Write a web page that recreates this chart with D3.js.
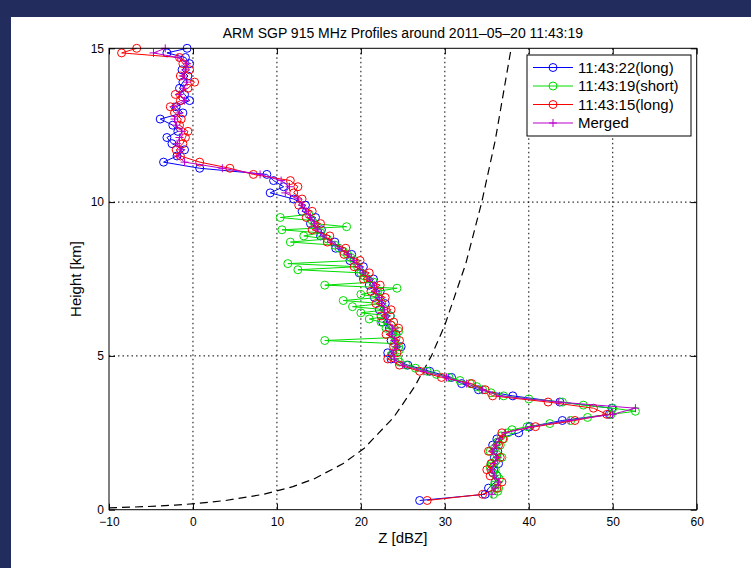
<!DOCTYPE html>
<html>
<head>
<meta charset="utf-8">
<script src="https://cdn.jsdelivr.net/npm/d3@7"></script>
<style>
  html, body { margin: 0; padding: 0; background: #222d5e; }
  svg { display: block; }
  text { font-family: "Liberation Sans", Arial, Helvetica, sans-serif; fill: #000; }
</style>
</head>
<body>
<svg id="chart" width="751" height="568"></svg>
<script>
// ---------------- data ----------------
const titleText = "ARM SGP 915 MHz Profiles around 2011\u201305\u201320 11:43:19";
const xLabel = "Z [dBZ]";
const yLabel = "Height [km]";
const xTicks = [-10, 0, 10, 20, 30, 40, 50, 60];
const yTicks = [0, 5, 10, 15];
const seriesNames = ["11:43:22(long)", "11:43:19(short)", "11:43:15(long)", "Merged"];

// heights (km) of the long-mode gates
const hLong = [0.3,0.5,0.7,0.9,1.1,1.3,1.5,1.7,1.9,2.1,2.3,2.5,2.7,2.9,3.1,3.3,3.5,3.7,3.9,4.1,
  4.3,4.5,4.7,4.9,5.1,5.3,5.5,5.7,5.9,6.1,6.3,6.5,6.7,6.9,7.1,7.3,7.5,7.7,7.9,8.1,
  8.3,8.5,8.7,8.9,9.1,9.3,9.5,9.7,9.9,10.1,10.3,10.5,10.7,10.9,11.1,11.3,11.5,11.7,11.9,12.1,
  12.3,12.5,12.7,12.9,13.1,13.3,13.5,13.7,13.9,14.1,14.3,14.5,14.7,14.85,15.0];
// 11:43:22 (long)
const zBlue = [27.0,34.8,35.2,36.0,36.2,35.8,36.4,35.9,36.3,35.7,36.2,38.8,40.1,44.0,49.6,49.9,43.7,38.1,34.0,32.0,
  30.8,28.2,25.6,23.6,23.2,24.8,23.6,24.2,23.4,22.6,23.5,22.2,22.9,21.6,22.3,21.0,21.5,19.8,20.3,18.7,
  18.9,17.0,16.9,15.2,15.3,14.0,14.6,13.0,13.4,12.0,9.2,10.8,9.6,8.8,0.8,-3.5,-1.9,-1.0,-2.5,-3.1,
  -1.8,-2.4,-3.9,-1.2,-2.0,-0.4,-1.0,-1.6,-1.2,-0.6,-1.3,-0.4,-0.9,-3.1,-0.7];
// 11:43:15 (long)
const zRed = [27.9,34.5,36.2,36.8,35.4,35.0,35.5,36.6,35.2,36.4,36.9,36.8,40.8,45.5,49.3,47.7,42.3,35.7,34.8,33.2,
  29.6,27.0,24.6,23.2,24.3,23.9,24.6,23.0,24.5,23.9,22.4,23.6,21.8,22.9,21.2,22.3,20.3,21.0,19.2,19.9,
  18.0,18.2,16.0,16.3,14.2,15.2,13.5,14.2,12.6,13.0,12.0,12.5,11.6,7.2,4.4,0.8,-1.5,-2.0,-1.2,-0.9,
  -0.6,-1.6,-1.4,-2.2,-2.7,-1.5,-2.1,-0.6,0.2,-1.5,-0.4,-1.2,-1.6,-8.5,-6.7];
// merged
const hMerged = hLong.slice(1);
const zMerged = [35.6,36.0,36.4,35.9,35.6,35.8,36.2,35.7,36.1,36.5,37.2,40.3,44.8,50.0,52.7,43.5,36.5,34.5,32.6,
  30.2,27.5,25.0,24.0,23.8,24.2,24.0,23.6,23.8,23.2,23.0,22.8,22.5,22.2,21.8,21.6,21.0,20.3,19.8,19.2,
  18.5,17.5,16.5,15.5,14.8,14.5,14.0,13.5,13.0,12.5,11.0,11.5,10.5,8.0,3.5,-1.0,-1.8,-1.4,-1.9,-1.6,
  -1.3,-2.0,-2.2,-1.6,-2.3,-1.0,-1.6,-1.1,-0.7,-1.2,-0.9,-0.7,-1.8,-4.7,-3.3];
// 11:43:19 (short) – finer gates
const hShort = [0.5,0.6,0.7,0.8,0.9,1.0,1.1,1.2,1.3,1.4,1.5,1.6,1.7,1.8,1.9,2.0,2.1,2.2,2.3,2.4,
  2.5,2.6,2.7,2.8,2.9,3.0,3.1,3.2,3.3,3.4,3.5,3.6,3.7,3.8,3.9,4.0,4.1,4.2,4.3,4.4,
  4.5,4.6,4.7,4.8,4.9,5.0,5.1,5.2,5.3,5.4,5.5,5.6,5.7,5.8,5.9,6.0,6.1,6.2,6.3,6.4,
  6.5,6.6,6.7,6.8,6.9,7.0,7.1,7.2,7.3,7.4,7.5,7.6,7.7,7.8,7.9,8.0,8.1,8.2,8.3,8.4,
  8.5,8.6,8.7,8.8,8.9,9.0,9.1,9.2,9.3,9.4,9.5,9.6];
const zGreen = [35.8,36.3,36.4,35.9,36.0,36.5,36.2,35.7,36.0,35.4,35.6,36.1,36.8,36.2,35.4,35.9,36.6,36.3,37.0,36.7,
  37.5,38.0,39.8,42.5,45.0,47.0,49.8,52.7,50.0,46.5,44.0,40.0,37.0,35.5,34.5,33.8,33.0,31.8,30.5,29.0,
  27.9,26.5,25.4,24.6,24.4,23.6,23.8,24.6,24.5,24.0,15.7,24.2,23.8,24.5,23.0,23.6,22.4,21.0,23.5,20.0,
  23.0,19.0,22.5,17.9,22.2,20.0,22.0,24.3,15.7,21.5,20.8,20.4,20.0,12.5,19.6,11.3,19.2,18.8,18.4,17.9,
  17.4,16.9,11.6,16.0,13.2,15.2,10.6,18.3,14.5,14.2,10.4,13.8];
// minimum detectable reflectivity curve (dashed)
const hMin = [0.06,0.1,0.15,0.2,0.3,0.5,0.75,1,1.5,2,3,4,5,6,8,10,12,15];
const zMin = [-10.0,-5.6,-2.1,0.4,3.9,8.4,11.9,14.4,17.9,20.4,23.9,26.4,28.4,30.0,32.5,34.4,36.0,37.9];

const colors = ["#0000ff", "#00dd00", "#ff0000", "#bb00cc"];

// ---------------- chart ----------------
const svg = d3.select("#chart");
svg.append("rect").attr("x", 11).attr("y", 17).attr("width", 740).attr("height", 551).attr("fill", "#ffffff");

const L = 109, R = 696.7, T = 48.3, B = 509.7;
const x = d3.scaleLinear().domain([-10, 60]).range([L, R]);
const y = d3.scaleLinear().domain([0, 15]).range([B, T]);

// grid
const grid = svg.append("g").attr("stroke", "#000").attr("stroke-width", 1)
  .attr("stroke-dasharray", "1.5,3").attr("fill", "none");
xTicks.filter(v => v > -10 && v < 60).forEach(v => {
  grid.append("line").attr("x1", x(v)).attr("x2", x(v)).attr("y1", T).attr("y2", B);
});
yTicks.filter(v => v > 0 && v < 15).forEach(v => {
  grid.append("line").attr("x1", L).attr("x2", R).attr("y1", y(v)).attr("y2", y(v));
});

const plot = svg.append("g");

// dashed curve
const line = d3.line().x(d => x(d[0])).y(d => y(d[1]));
plot.append("path").datum(zMin.map((z, i) => [z, hMin[i]]))
  .attr("d", line).attr("fill", "none").attr("stroke", "#000")
  .attr("stroke-width", 1.2).attr("stroke-dasharray", "8,5");

function drawSeries(zs, hs, color, marker) {
  const pts = zs.map((z, i) => [z, hs[i]]);
  const g = plot.append("g");
  g.append("path").datum(pts).attr("d", line).attr("fill", "none")
    .attr("stroke", color).attr("stroke-width", 1);
  if (marker === "o") {
    g.selectAll("circle").data(pts).join("circle")
      .attr("cx", d => x(d[0])).attr("cy", d => y(d[1])).attr("r", 4)
      .attr("fill", "none").attr("stroke", color).attr("stroke-width", 1);
  } else {
    g.selectAll("path.plus").data(pts).join("path").attr("class", "plus")
      .attr("d", d => `M${x(d[0]) - 4},${y(d[1])}h8M${x(d[0])},${y(d[1]) - 4}v8`)
      .attr("stroke", color).attr("stroke-width", 1).attr("fill", "none");
  }
}
drawSeries(zBlue, hLong, colors[0], "o");
drawSeries(zGreen, hShort, colors[1], "o");
drawSeries(zRed, hLong, colors[2], "o");
drawSeries(zMerged, hMerged, colors[3], "+");

// axes
const fmt = d3.format("d");
const xAxis = d3.axisBottom(x).tickValues(xTicks).tickSizeInner(-6).tickSizeOuter(0).tickPadding(8)
  .tickFormat(d => fmt(d).replace("-", "\u2212"));
const gx = svg.append("g").attr("transform", `translate(0,${B})`).call(xAxis);
const gxt = svg.append("g").attr("transform", `translate(0,${T})`)
  .call(d3.axisTop(x).tickValues(xTicks).tickSizeInner(-6).tickSizeOuter(0).tickFormat(""));
const yAxis = d3.axisLeft(y).tickValues(yTicks).tickSizeInner(-6).tickSizeOuter(0).tickPadding(5).tickFormat(fmt);
const gy = svg.append("g").attr("transform", `translate(${L},0)`).call(yAxis);
const gyr = svg.append("g").attr("transform", `translate(${R},0)`)
  .call(d3.axisRight(y).tickValues(yTicks).tickSizeInner(-6).tickSizeOuter(0).tickFormat(""));
[gx, gxt, gy, gyr].forEach(g => {
  g.select(".domain").remove();
  g.selectAll("line").attr("stroke", "#000");
  g.selectAll("text").attr("font-size", 12).attr("font-family", "Liberation Sans, Arial, sans-serif").attr("fill", "#000");
});
svg.append("rect").attr("x", L).attr("y", T).attr("width", R - L).attr("height", B - T)
  .attr("fill", "none").attr("stroke", "#000").attr("stroke-width", 1);

// labels
svg.append("text").attr("x", (L + R) / 2).attr("y", 38).attr("text-anchor", "middle")
  .attr("font-size", 14).text(titleText);
svg.append("text").attr("x", (L + R) / 2).attr("y", 543).attr("text-anchor", "middle")
  .attr("font-size", 15).text(xLabel);
svg.append("text").attr("transform", `translate(81,${(T + B) / 2}) rotate(-90)`)
  .attr("text-anchor", "middle").attr("font-size", 15).text(yLabel);

// legend
const lg = svg.append("g");
lg.append("rect").attr("x", 527).attr("y", 55).attr("width", 164).attr("height", 81)
  .attr("fill", "#fff").attr("stroke", "#000").attr("stroke-width", 1);
const rowsY = [67.5, 86, 104.5, 123];
seriesNames.forEach((name, i) => {
  const yy = rowsY[i];
  lg.append("line").attr("x1", 533).attr("x2", 573).attr("y1", yy).attr("y2", yy)
    .attr("stroke", colors[i]).attr("stroke-width", 1);
  if (i < 3) {
    lg.append("circle").attr("cx", 553).attr("cy", yy).attr("r", 4)
      .attr("fill", "none").attr("stroke", colors[i]);
  } else {
    lg.append("path").attr("d", `M549,${yy}h8M553,${yy - 4}v8`).attr("stroke", colors[i]);
  }
  lg.append("text").attr("x", 578).attr("y", yy + 5).attr("font-size", 15).text(name);
});
</script>
</body>
</html>
